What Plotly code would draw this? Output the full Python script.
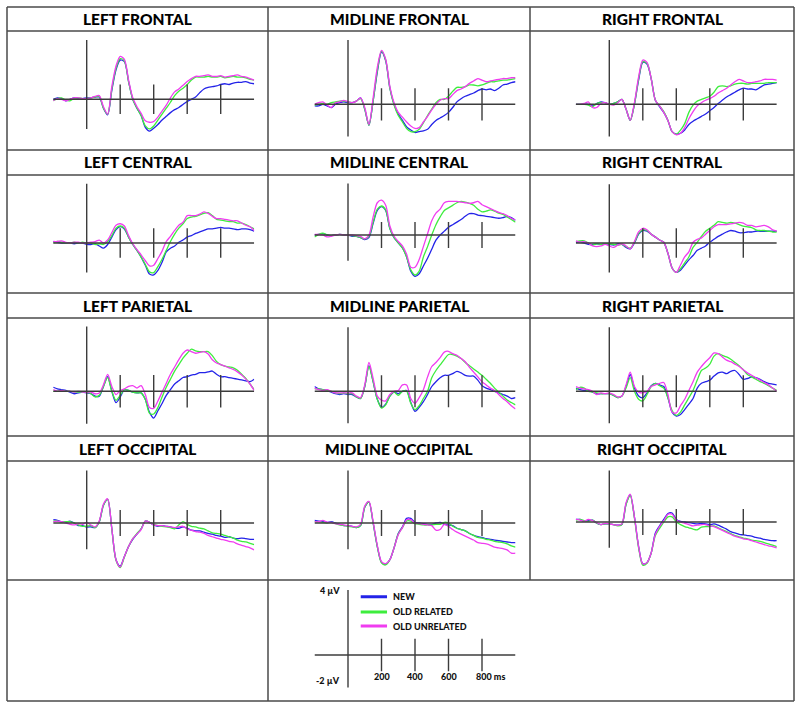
import plotly.graph_objects as go

# ---------------- data ----------------
time_ms = list(range(-200, 1001, 25))
series_names = ["NEW", "OLD RELATED", "OLD UNRELATED"]
panel_titles = ["LEFT FRONTAL", "MIDLINE FRONTAL", "RIGHT FRONTAL",
                "LEFT CENTRAL", "MIDLINE CENTRAL", "RIGHT CENTRAL",
                "LEFT PARIETAL", "MIDLINE PARIETAL", "RIGHT PARIETAL",
                "LEFT OCCIPITAL", "MIDLINE OCCIPITAL", "RIGHT OCCIPITAL"]
tick_ms = [200, 400, 600, 800]
tick_labels = ["200", "400", "600", "800 ms"]
scale_uv = [4, -2]
scale_labels = ["4 µV", "-2 µV"]

lf_new = [0.0, 0.1, 0.05, -0.1, 0.0, 0.1, 0.05, 0.05,
          0.1, 0.1, 0.15, 0.15, -0.6, -1.05, 0.6, 2.0, 2.65, 2.55,
          1.2, 0.0, -0.6, -1.1, -1.9, -2.15, -1.95, -1.7, -1.4, -1.15,
          -0.9, -0.7, -0.55, -0.35, -0.15, 0.0, 0.15, 0.45, 0.7, 0.8,
          0.85, 0.9, 1.0, 1.05, 1.0, 1.1, 1.15, 1.15, 1.2, 1.1,
          1.05]
lf_rel = [-0.1, 0.05, 0.1, -0.05, -0.1, 0.05, 0.1, 0.05,
          0.05, 0.1, 0.15, 0.2, -0.6, -1.0, 0.7, 2.1, 2.75, 2.6,
          1.2, 0.0, -0.6, -1.1, -1.8, -2.0, -1.8, -1.4, -1.0, -0.6,
          -0.2, 0.25, 0.55, 0.75, 1.0, 1.3, 1.5, 1.5, 1.5, 1.55,
          1.5, 1.5, 1.55, 1.45, 1.5, 1.55, 1.5, 1.5, 1.45, 1.35,
          1.3]
lf_unr = [-0.1, 0.05, 0.0, -0.1, 0.0, 0.1, 0.1, 0.05,
          0.05, 0.1, 0.2, 0.25, -0.5, -1.0, 0.85, 2.25, 2.9, 2.7,
          1.3, 0.1, -0.5, -0.95, -1.45, -1.55, -1.5, -1.2, -0.8, -0.4,
          0.1, 0.5, 0.7, 0.95, 1.2, 1.4, 1.55, 1.55, 1.6, 1.65,
          1.55, 1.55, 1.6, 1.5, 1.55, 1.6, 1.65, 1.55, 1.5, 1.4,
          1.3]

mf_new = [-0.1, -0.1, 0.0, -0.1, -0.2, 0.0, 0.1, 0.15,
          0.1, 0.1, 0.2, 0.4, -0.3, -1.3, 0.2, 2.0, 3.25, 2.7,
          1.0, 0.0, -0.6, -1.0, -1.4, -1.6, -1.75, -1.7, -1.65, -1.55,
          -1.25, -1.0, -0.85, -0.7, -0.5, -0.2, 0.15, 0.35, 0.5, 0.6,
          0.7, 0.85, 0.95, 0.9, 0.95, 0.85, 1.0, 1.2, 1.25, 1.35,
          1.4]
mf_rel = [-0.05, 0.0, 0.05, 0.0, 0.1, 0.15, 0.2, 0.2,
          0.15, 0.1, 0.2, 0.35, -0.3, -1.3, 0.2, 2.1, 3.3, 2.75,
          1.0, -0.05, -0.7, -1.1, -1.5, -1.7, -1.7, -1.55, -1.15, -0.7,
          -0.3, 0.1, 0.3, 0.3, 0.5, 0.8, 1.05, 1.05, 1.1, 1.2,
          1.2, 1.15, 1.2, 1.3, 1.4, 1.4, 1.45, 1.5, 1.5, 1.55,
          1.6]
mf_unr = [0.0, 0.1, 0.15, -0.05, -0.2, 0.1, 0.15, 0.25,
          0.15, 0.1, 0.2, 0.4, -0.2, -1.25, 0.4, 2.3, 3.35, 2.8,
          1.1, 0.1, -0.5, -0.8, -1.1, -1.35, -1.5, -1.45, -1.1, -0.75,
          -0.35, 0.0, 0.25, 0.35, 0.35, 0.6, 0.85, 0.95, 1.1, 1.3,
          1.45, 1.6, 1.5, 1.4, 1.45, 1.5, 1.55, 1.6, 1.6, 1.65,
          1.65]

rf_new = [0.0, 0.0, 0.0, 0.0, -0.1, 0.05, 0.15, 0.1,
          0.0, 0.05, 0.15, 0.3, -0.3, -1.0, 0.0, 1.5, 2.6, 2.5,
          1.6, 0.25, -0.15, -0.5, -1.0, -1.7, -1.85, -1.8, -1.6, -1.25,
          -1.05, -0.9, -0.75, -0.6, -0.4, -0.2, 0.05, 0.25, 0.45, 0.6,
          0.75, 0.9, 1.0, 0.95, 0.95, 0.9, 1.05, 1.2, 1.25, 1.3,
          1.35]
rf_rel = [0.0, 0.0, 0.0, -0.05, -0.15, 0.05, 0.1, 0.1,
          0.0, 0.05, 0.15, 0.3, -0.3, -1.0, 0.0, 1.6, 2.65, 2.55,
          1.6, 0.25, -0.1, -0.45, -1.0, -1.7, -1.85, -1.6, -1.2, -0.5,
          -0.05, 0.2, 0.3, 0.4, 0.5, 0.75, 1.1, 1.15, 1.1, 1.15,
          1.25, 1.3, 1.3, 1.25, 1.3, 1.3, 1.3, 1.3, 1.35, 1.35,
          1.35]
rf_unr = [0.0, 0.0, 0.05, 0.15, -0.2, -0.2, 0.05, 0.1,
          0.0, -0.05, 0.1, 0.3, -0.3, -1.0, 0.1, 1.7, 2.75, 2.6,
          1.6, 0.25, -0.1, -0.5, -1.0, -1.7, -1.9, -1.8, -1.45, -0.9,
          -0.45, -0.1, 0.1, 0.25, 0.35, 0.5, 0.7, 0.85, 1.0, 1.2,
          1.4, 1.55, 1.45, 1.35, 1.35, 1.4, 1.45, 1.55, 1.55, 1.55,
          1.5]

lc_new = [0.1, 0.05, 0.0, 0.0, 0.0, -0.05, 0.0, 0.0,
          -0.1, -0.1, -0.05, -0.2, -0.35, -0.1, 0.4, 0.9, 1.1, 0.95,
          0.4, -0.1, -0.5, -0.95, -1.5, -2.1, -2.15, -1.85, -1.3, -0.6,
          -0.35, -0.2, 0.05, 0.2, 0.4, 0.5, 0.65, 0.75, 0.85, 0.95,
          0.95, 1.0, 1.05, 1.0, 1.0, 0.95, 0.9, 0.95, 0.95, 0.9,
          0.8]
lc_rel = [0.0, 0.1, 0.05, 0.0, 0.0, 0.05, 0.0, 0.05,
          0.0, 0.0, -0.1, -0.05, -0.1, 0.1, 0.5, 1.0, 1.15, 1.0,
          0.4, -0.1, -0.5, -0.95, -1.45, -1.95, -2.0, -1.6, -1.1, -0.5,
          0.1, 0.6, 1.0, 1.3, 1.65, 1.75, 1.8, 1.9, 2.0, 2.05,
          1.85, 1.6, 1.55, 1.5, 1.45, 1.45, 1.35, 1.35, 1.25, 1.1,
          0.95]
lc_unr = [0.1, 0.1, 0.15, 0.05, 0.0, 0.05, 0.05, 0.0,
          0.0, 0.05, 0.1, 0.2, 0.0, 0.2, 0.7, 1.2, 1.3, 1.15,
          0.5, -0.05, -0.45, -0.8, -1.2, -1.55, -1.5, -1.05, -0.55, 0.1,
          0.45, 0.85, 1.2, 1.4, 1.85, 1.85, 1.85, 1.95, 2.1, 2.0,
          1.8, 1.65, 1.65, 1.6, 1.55, 1.5, 1.5, 1.35, 1.2, 1.1,
          0.85]

mc_new = [0.0, 0.05, 0.1, 0.0, -0.05, 0.0, 0.05, 0.0,
          0.0, -0.1, -0.1, -0.2, -0.35, -0.2, 0.9, 1.9, 2.2, 1.9,
          0.5, -0.2, -0.6, -1.0, -1.7, -2.8, -3.2, -3.0, -2.4, -1.8,
          -1.1, -0.4, 0.0, 0.3, 0.6, 0.8, 1.0, 1.2, 1.45, 1.65,
          1.65, 1.55, 1.5, 1.45, 1.4, 1.35, 1.3, 1.35, 1.45, 1.35,
          1.15]
mc_rel = [-0.15, 0.05, 0.15, 0.0, -0.05, 0.0, 0.05, 0.0,
          0.0, -0.05, -0.1, -0.2, -0.3, -0.1, 1.0, 2.0, 2.25, 1.95,
          0.5, -0.2, -0.6, -1.0, -1.7, -2.7, -3.1, -2.8, -1.7, -0.9,
          0.0, 0.8, 1.4, 1.9, 2.1, 2.3, 2.5, 2.6, 2.55, 2.45,
          2.3, 2.0, 1.8, 1.85, 1.95, 1.85, 1.7, 1.6, 1.4, 1.2,
          1.0]
mc_unr = [0.05, 0.05, 0.0, -0.15, -0.1, 0.0, 0.05, 0.0,
          0.0, 0.0, -0.05, -0.1, -0.3, 0.0, 1.4, 2.5, 2.7, 2.3,
          0.7, -0.1, -0.5, -0.85, -1.5, -2.5, -2.5, -1.9, -0.9, 0.1,
          1.1, 1.7, 2.0, 2.5, 2.6, 2.6, 2.6, 2.55, 2.5, 2.45,
          2.5, 2.6, 2.35, 2.2, 2.05, 1.9, 1.75, 1.65, 1.5, 1.3,
          1.15]

rc_new = [0.05, 0.05, 0.0, -0.1, -0.1, -0.05, -0.1, -0.05,
          -0.1, -0.15, -0.05, -0.1, -0.3, -0.4, 0.0, 0.6, 0.85, 0.8,
          0.6, 0.4, 0.2, 0.05, -0.7, -1.7, -2.0, -1.85, -1.5, -1.15,
          -0.85, -0.5, -0.35, -0.2, 0.05, 0.25, 0.45, 0.6, 0.75, 0.85,
          0.8, 0.7, 0.7, 0.75, 0.75, 0.8, 0.8, 0.8, 0.8, 0.8,
          0.8]
rc_rel = [0.1, 0.15, 0.15, 0.0, -0.15, -0.05, -0.1, -0.05,
          -0.05, -0.1, -0.15, -0.1, -0.25, -0.35, 0.05, 0.65, 0.9, 0.85,
          0.6, 0.4, 0.2, 0.05, -0.7, -1.7, -2.0, -1.75, -1.35, -0.95,
          -0.3, 0.05, 0.45, 0.8, 1.0, 1.2, 1.45, 1.4, 1.35, 1.4,
          1.35, 1.25, 1.15, 1.1, 1.05, 0.9, 0.85, 0.85, 0.8, 0.75,
          0.75]
rc_unr = [0.15, 0.05, 0.1, 0.0, -0.2, -0.25, -0.2, -0.1,
          -0.2, -0.3, -0.15, -0.05, -0.2, -0.4, 0.1, 0.75, 1.0, 0.9,
          0.6, 0.4, 0.2, 0.05, -0.7, -1.7, -2.0, -1.5, -0.95, -0.6,
          0.05, 0.25, 0.35, 0.6, 0.85, 1.1, 1.25, 1.25, 1.25, 1.3,
          1.35, 1.4, 1.35, 1.2, 1.2, 1.1, 1.15, 1.2, 1.1, 0.9,
          0.8]

lp_new = [0.25, 0.15, 0.1, 0.05, -0.05, -0.15, -0.1, -0.05,
          -0.1, -0.15, -0.3, -0.3, 0.3, 0.9, 0.0, -0.7, -0.35, 0.1,
          0.05, -0.05, -0.1, -0.1, -0.5, -1.3, -1.65, -1.2, -0.75, -0.25,
          0.1, 0.45, 0.65, 0.85, 0.9, 1.0, 1.05, 1.15, 1.15, 1.2,
          1.25, 1.05, 0.9, 0.9, 0.85, 0.8, 0.75, 0.7, 0.65, 0.6,
          0.75]
lp_rel = [0.0, 0.0, 0.05, 0.0, 0.0, -0.05, -0.05, -0.05,
          -0.05, -0.15, -0.35, -0.25, 0.3, 0.85, 0.0, -0.55, -0.25, 0.1,
          0.05, -0.05, -0.1, -0.1, -0.5, -1.35, -1.4, -1.0, -0.35, 0.25,
          0.75, 1.25, 1.65, 2.05, 2.35, 2.6, 2.5, 2.45, 2.45, 2.45,
          2.2, 1.85, 1.65, 1.55, 1.5, 1.45, 1.3, 1.05, 0.8, 0.45,
          0.1]
lp_unr = [0.1, 0.0, 0.05, 0.0, 0.0, -0.05, 0.0, -0.05,
          -0.05, -0.05, -0.15, -0.1, 0.4, 1.05, 0.3, -0.2, 0.05, 0.15,
          0.3, 0.35, 0.2, 0.35, -0.2, -1.0, -1.05, -0.6, -0.05, 0.5,
          1.05, 1.5, 1.95, 2.35, 2.55, 2.45, 2.35, 2.4, 2.45, 2.3,
          1.95, 1.75, 1.65, 1.55, 1.45, 1.35, 1.2, 1.0, 0.75, 0.45,
          0.05]

mp_new = [0.3, 0.15, 0.1, 0.05, -0.05, -0.15, -0.2, -0.15,
          -0.2, -0.2, -0.35, -0.45, 0.3, 1.6, 0.6, -0.5, -1.0, -0.8,
          -0.3, -0.05, -0.15, 0.0, 0.05, -0.7, -1.25, -1.0, -0.65, -0.2,
          0.3, 0.6, 0.85, 1.0, 1.0, 1.1, 1.25, 1.15, 1.0, 0.95,
          0.95, 0.7, 0.35, 0.2, 0.1, 0.0, -0.1, -0.2, -0.3, -0.45,
          -0.4]
mp_rel = [0.15, 0.15, 0.1, 0.05, 0.0, -0.1, -0.15, -0.1,
          -0.15, -0.15, -0.35, -0.45, 0.3, 1.55, 0.6, -0.5, -1.05, -0.85,
          -0.3, -0.05, -0.25, 0.0, 0.0, -0.75, -1.15, -0.9, -0.45, 0.0,
          0.85, 1.3, 1.65, 2.0, 2.3, 2.3, 2.2, 2.05, 1.8, 1.6,
          1.4, 1.2, 1.0, 0.75, 0.5, 0.2, -0.05, -0.3, -0.55, -0.7,
          -0.85]
mp_unr = [0.2, 0.1, 0.05, 0.1, 0.0, -0.1, -0.1, -0.1,
          -0.1, -0.1, -0.3, -0.4, 0.4, 1.8, 0.8, -0.3, -0.55, -0.6,
          -0.2, 0.0, 0.05, 0.4, 0.4, -0.45, -0.75, -0.4, 0.1, 0.9,
          1.55, 1.8, 2.1, 2.45, 2.5, 2.35, 2.25, 2.05, 1.85, 1.5,
          1.2, 0.9, 0.6, 0.4, 0.2, 0.05, -0.2, -0.45, -0.65, -0.9,
          -1.1]

rp_new = [0.2, 0.1, 0.05, 0.05, -0.05, -0.15, -0.15, -0.15,
          -0.15, -0.25, -0.4, -0.3, 0.3, 1.05, 0.2, -0.3, -0.4, -0.1,
          0.35, 0.5, 0.4, 0.3, -0.4, -1.3, -1.55, -1.45, -1.15, -0.8,
          -0.45, 0.2, 0.5, 0.6, 0.7, 0.95, 1.15, 1.2, 1.1, 1.25,
          1.3, 1.05, 0.75, 0.8, 0.9, 0.85, 0.75, 0.6, 0.5, 0.45,
          0.4]
rp_rel = [0.1, 0.25, 0.2, 0.0, -0.05, -0.1, -0.15, -0.15,
          -0.15, -0.25, -0.4, -0.3, 0.2, 0.85, 0.0, -0.5, -0.6, -0.2,
          0.3, 0.5, 0.35, 0.2, -0.4, -1.2, -1.5, -1.3, -0.85, -0.4,
          0.05, 0.7, 1.3, 1.45, 1.7, 2.2, 2.35, 2.25, 2.15, 2.0,
          1.8, 1.6, 1.35, 1.05, 0.9, 0.75, 0.6, 0.5, 0.35, 0.2,
          0.05]
rp_unr = [0.3, 0.2, 0.15, 0.1, 0.0, -0.2, -0.1, -0.15,
          -0.1, -0.2, -0.35, -0.3, 0.4, 1.2, 0.3, -0.05, -0.1, 0.0,
          0.3, 0.4, 0.5, 0.55, -0.2, -1.3, -1.35, -0.9, -0.5, 0.05,
          0.6, 1.2, 1.55, 1.85, 2.1, 2.4, 2.35, 2.15, 1.95, 1.85,
          1.7, 1.55, 1.35, 1.15, 1.0, 0.85, 0.7, 0.55, 0.4, 0.2,
          0.0]

lo_new = [0.25, 0.2, 0.1, 0.05, 0.15, 0.0, -0.2, -0.2,
          -0.3, -0.3, -0.35, 0.1, 1.35, 1.8, -0.45, -2.8, -3.3, -2.55,
          -1.8, -1.25, -0.85, -0.45, 0.15, 0.05, -0.15, -0.25, -0.2, -0.25,
          -0.3, -0.4, -0.4, -0.3, -0.4, -0.55, -0.6, -0.6, -0.7, -0.8,
          -0.85, -0.95, -1.0, -1.1, -1.05, -1.15, -1.2, -1.15, -1.2, -1.25,
          -1.25]
lo_rel = [0.15, 0.15, 0.05, 0.1, 0.1, 0.0, -0.15, -0.25,
          -0.25, -0.2, -0.35, 0.1, 1.35, 1.8, -0.45, -2.85, -3.4, -2.6,
          -1.8, -1.2, -0.8, -0.45, 0.15, 0.05, -0.1, -0.2, -0.25, -0.3,
          -0.35, -0.45, -0.15, 0.1, -0.1, -0.25, -0.3, -0.4, -0.45, -0.6,
          -0.75, -0.8, -0.85, -0.95, -1.05, -1.15, -1.3, -1.4, -1.45, -1.55,
          -1.65]
lo_unr = [0.1, 0.15, 0.1, 0.0, -0.1, -0.15, -0.05, -0.1,
          0.05, -0.15, -0.3, 0.15, 1.45, 1.85, -0.45, -2.8, -3.35, -2.55,
          -1.8, -1.2, -0.85, -0.5, 0.15, 0.05, -0.15, -0.2, -0.2, -0.25,
          -0.3, -0.35, -0.3, -0.25, -0.45, -0.55, -0.65, -0.7, -0.8, -0.95,
          -1.05, -1.15, -1.25, -1.3, -1.4, -1.45, -1.6, -1.7, -1.8, -1.9,
          -2.05]

mo_new = [0.2, 0.15, 0.1, 0.05, 0.1, 0.0, -0.1, -0.2,
          -0.2, -0.25, -0.35, -0.2, 1.2, 1.6, 0.0, -1.8, -3.0, -3.15,
          -2.8, -1.9, -0.8, -0.3, 0.35, 0.35, 0.05, 0.0, -0.05, -0.1,
          -0.1, 0.0, 0.05, -0.1, -0.15, -0.2, -0.4, -0.5, -0.6, -0.8,
          -0.95, -1.05, -1.1, -1.2, -1.25, -1.3, -1.35, -1.4, -1.45, -1.5,
          -1.5]
mo_rel = [0.1, 0.1, 0.05, 0.0, 0.05, -0.05, -0.15, -0.2,
          -0.25, -0.3, -0.35, -0.2, 1.2, 1.6, 0.0, -1.8, -3.05, -3.2,
          -2.8, -1.9, -0.85, -0.35, 0.15, 0.15, -0.05, -0.1, -0.15, -0.15,
          -0.15, -0.1, -0.1, 0.05, 0.0, -0.25, -0.4, -0.5, -0.6, -0.8,
          -0.95, -1.1, -1.15, -1.25, -1.3, -1.4, -1.45, -1.5, -1.6, -1.75,
          -1.85]
mo_unr = [0.1, 0.1, 0.2, 0.05, 0.05, -0.05, -0.1, -0.15,
          -0.2, -0.25, -0.3, -0.1, 1.3, 1.65, 0.1, -1.7, -2.95, -3.1,
          -2.8, -1.9, -0.9, -0.35, 0.25, 0.25, 0.0, -0.05, -0.1, -0.15,
          -0.2, -0.55, -0.5, -0.1, -0.25, -0.5, -0.7, -0.85, -1.0, -1.15,
          -1.3, -1.5, -1.55, -1.6, -1.7, -1.85, -1.9, -1.95, -2.05, -2.3,
          -2.3]

ro_new = [0.2, 0.2, 0.05, 0.1, 0.15, -0.1, -0.2, -0.15,
          -0.15, -0.2, -0.25, -0.2, 1.4, 2.1, 0.4, -1.9, -3.25, -3.15,
          -2.4, -0.85, -0.3, 0.2, 0.65, 0.7, 0.2, 0.05, 0.0, -0.05,
          -0.1, -0.15, -0.1, -0.15, -0.2, -0.15, -0.25, -0.4, -0.55, -0.75,
          -0.85, -0.95, -1.0, -1.05, -1.1, -1.2, -1.25, -1.35, -1.4, -1.45,
          -1.45]
ro_rel = [0.15, 0.2, 0.1, 0.05, 0.15, -0.1, -0.2, -0.15,
          -0.15, -0.2, -0.3, -0.2, 1.35, 2.05, 0.3, -2.0, -3.35, -3.2,
          -2.4, -1.05, -0.5, 0.0, 0.4, 0.4, 0.0, -0.2, -0.35, -0.45,
          -0.55, -0.6, -0.4, -0.35, -0.35, -0.3, -0.45, -0.6, -0.75, -0.9,
          -1.05, -1.15, -1.25, -1.3, -1.4, -1.45, -1.5, -1.6, -1.7, -1.8,
          -1.9]
ro_unr = [0.2, 0.15, 0.05, 0.2, 0.1, -0.05, -0.2, -0.1,
          -0.15, -0.2, -0.25, -0.15, 1.5, 2.15, 0.4, -1.9, -3.25, -3.15,
          -2.4, -0.95, -0.35, 0.1, 0.6, 0.6, 0.15, 0.0, -0.1, -0.2,
          -0.3, -0.25, -0.2, -0.2, -0.3, -0.35, -0.5, -0.65, -0.8, -0.95,
          -1.1, -1.2, -1.3, -1.35, -1.45, -1.55, -1.65, -1.75, -1.85, -1.9,
          -2.0]

panel_series = [
    (lf_new, lf_rel, lf_unr), (mf_new, mf_rel, mf_unr), (rf_new, rf_rel, rf_unr),
    (lc_new, lc_rel, lc_unr), (mc_new, mc_rel, mc_unr), (rc_new, rc_rel, rc_unr),
    (lp_new, lp_rel, lp_unr), (mp_new, mp_rel, mp_unr), (rp_new, rp_rel, rp_unr),
    (lo_new, lo_rel, lo_unr), (mo_new, mo_rel, mo_unr), (ro_new, ro_rel, ro_unr),
]
for trio in panel_series:
    for s in trio:
        assert len(s) == len(time_ms), len(s)

# ---------------- style / geometry ----------------
W, H = 800, 709
COLORS = ["#2323e8", "#3ded3d", "#f03cf0"]
AX_COLOR = "#3c3c3c"
FRAME_COLOR = "#4a4a4a"
KX = 0.1675  # px per ms
TITLE_FONT = dict(family="Lato", size=15.5, color="#000", weight=900)
SMALL_FONT = dict(family="Lato", size=9, color="#111", weight=900)

# (x of t=0 px, y of 0 uV px, px per uV)
col_x0 = [86.7, 348.0, 609.3]
panel_geom = [
    (col_x0[0], 99.3, 14.8), (col_x0[1], 104.3, 16.1), (col_x0[2], 104.3, 16.1),
    (col_x0[0], 243.0, 14.8), (col_x0[1], 235.0, 12.9), (col_x0[2], 243.0, 14.7),
    (col_x0[0], 391.3, 16.2), (col_x0[1], 391.3, 16.0), (col_x0[2], 391.3, 16.0),
    (col_x0[0], 523.0, 13.1), (col_x0[1], 523.0, 13.1), (col_x0[2], 522.0, 12.9),
    (col_x0[1], 655.0, 16.25),  # legend / scale panel
]

fig = go.Figure()
shapes = []
annotations = []
layout_axes = {}


def ax_names(i):
    return ("x" if i == 0 else f"x{i+1}", "y" if i == 0 else f"y{i+1}",
            "xaxis" if i == 0 else f"xaxis{i+1}", "yaxis" if i == 0 else f"yaxis{i+1}")


for i, (x0, y0, s) in enumerate(panel_geom):
    xr, yr, xk, yk = ax_names(i)
    ylo, yhi = (-3.6, 4.2) if i < 12 else (-2.3, 4.2)
    layout_axes[xk] = dict(domain=[(x0 - 200 * KX) / W, (x0 + 1000 * KX) / W],
                           range=[-200, 1000], visible=False, fixedrange=True)
    layout_axes[yk] = dict(domain=[1 - (y0 - ylo * s) / H, 1 - (y0 - yhi * s) / H],
                           range=[ylo, yhi], visible=False, fixedrange=True)
    ln = dict(color=AX_COLOR, width=1.4)
    shapes.append(dict(type="line", xref=xr, yref=yr, x0=-200, x1=1000, y0=0, y1=0, line=ln))
    shapes.append(dict(type="line", xref=xr, yref=yr, x0=0, x1=0, y0=scale_uv[1], y1=scale_uv[0], line=ln))
    for t in tick_ms:
        shapes.append(dict(type="line", xref=xr, yref=yr, x0=t, x1=t, y0=-1, y1=1, line=ln))
    if i < 12:
        for k in range(3):
            fig.add_trace(go.Scatter(x=time_ms, y=panel_series[i][k], mode="lines",
                                     name=series_names[k], xaxis=xr, yaxis=yr,
                                     line=dict(color=COLORS[k], width=1.3, shape="spline", smoothing=0.8),
                                     showlegend=False, hoverinfo="skip"))

# ---------------- legend panel content ----------------
xr, yr, _, _ = ax_names(12)
legend_y = [3.59, 2.65, 1.78]
for k in range(3):
    shapes.append(dict(type="line", xref=xr, yref=yr, x0=76, x1=233, y0=legend_y[k], y1=legend_y[k],
                       line=dict(color=COLORS[k], width=3)))
    annotations.append(dict(xref=xr, yref=yr, x=259, y=legend_y[k], text=series_names[k],
                            showarrow=False, xanchor="left", yanchor="middle", font=SMALL_FONT))
for v, lab in zip(scale_uv, scale_labels):
    annotations.append(dict(xref=xr, yref=yr, x=0, y=v if v > 0 else -1.55, text=lab,
                            showarrow=False, xanchor="right", yanchor="middle", xshift=-6,
                            font=SMALL_FONT))
for t, lab in zip(tick_ms, tick_labels):
    if lab.endswith("ms"):
        annotations.append(dict(xref=xr, yref=yr, x=t, y=-1.33, text=lab, showarrow=False,
                                xanchor="left", yanchor="middle", xshift=-8.5, font=SMALL_FONT))
    else:
        annotations.append(dict(xref=xr, yref=yr, x=t, y=-1.33, text=lab, showarrow=False,
                                xanchor="center", yanchor="middle", font=SMALL_FONT))

# ---------------- frame ----------------
LEFT, RIGHT, TOP, BOTTOM = 7, 794, 7, 701
col_edges = [LEFT, 268, 530, RIGHT]
title_bands = [(7, 31), (150, 175), (293, 318), (436, 461)]
fl = dict(color=FRAME_COLOR, width=1.5)


def px_x(px):
    return px / W


def px_y(px):
    return 1 - px / H


for (ta, tb) in title_bands:
    for yy in (ta, tb):
        shapes.append(dict(type="line", xref="paper", yref="paper", x0=px_x(LEFT), x1=px_x(RIGHT),
                           y0=px_y(yy), y1=px_y(yy), line=fl))
for yy in (580, BOTTOM):
    shapes.append(dict(type="line", xref="paper", yref="paper", x0=px_x(LEFT), x1=px_x(RIGHT),
                       y0=px_y(yy), y1=px_y(yy), line=fl))
for xx in (LEFT, 268, RIGHT):
    shapes.append(dict(type="line", xref="paper", yref="paper", x0=px_x(xx), x1=px_x(xx),
                       y0=px_y(TOP), y1=px_y(BOTTOM), line=fl))
shapes.append(dict(type="line", xref="paper", yref="paper", x0=px_x(530), x1=px_x(530),
                   y0=px_y(TOP), y1=px_y(580), line=fl))

for i, title in enumerate(panel_titles):
    r, c = divmod(i, 3)
    cx = (col_edges[c] + col_edges[c + 1]) / 2
    cy = sum(title_bands[r]) / 2
    annotations.append(dict(xref="paper", yref="paper", x=px_x(cx), y=px_y(cy), text=title,
                            showarrow=False, xanchor="center", yanchor="middle", font=TITLE_FONT))

fig.update_layout(width=W, height=H, autosize=False, margin=dict(l=0, r=0, t=0, b=0),
                  paper_bgcolor="white", plot_bgcolor="rgba(0,0,0,0)",
                  shapes=shapes, annotations=annotations, showlegend=False, **layout_axes)

fig.write_html("out.html", config={"displayModeBar": False},
               post_script="document.body.style.margin='0';document.body.style.overflow='hidden';")
